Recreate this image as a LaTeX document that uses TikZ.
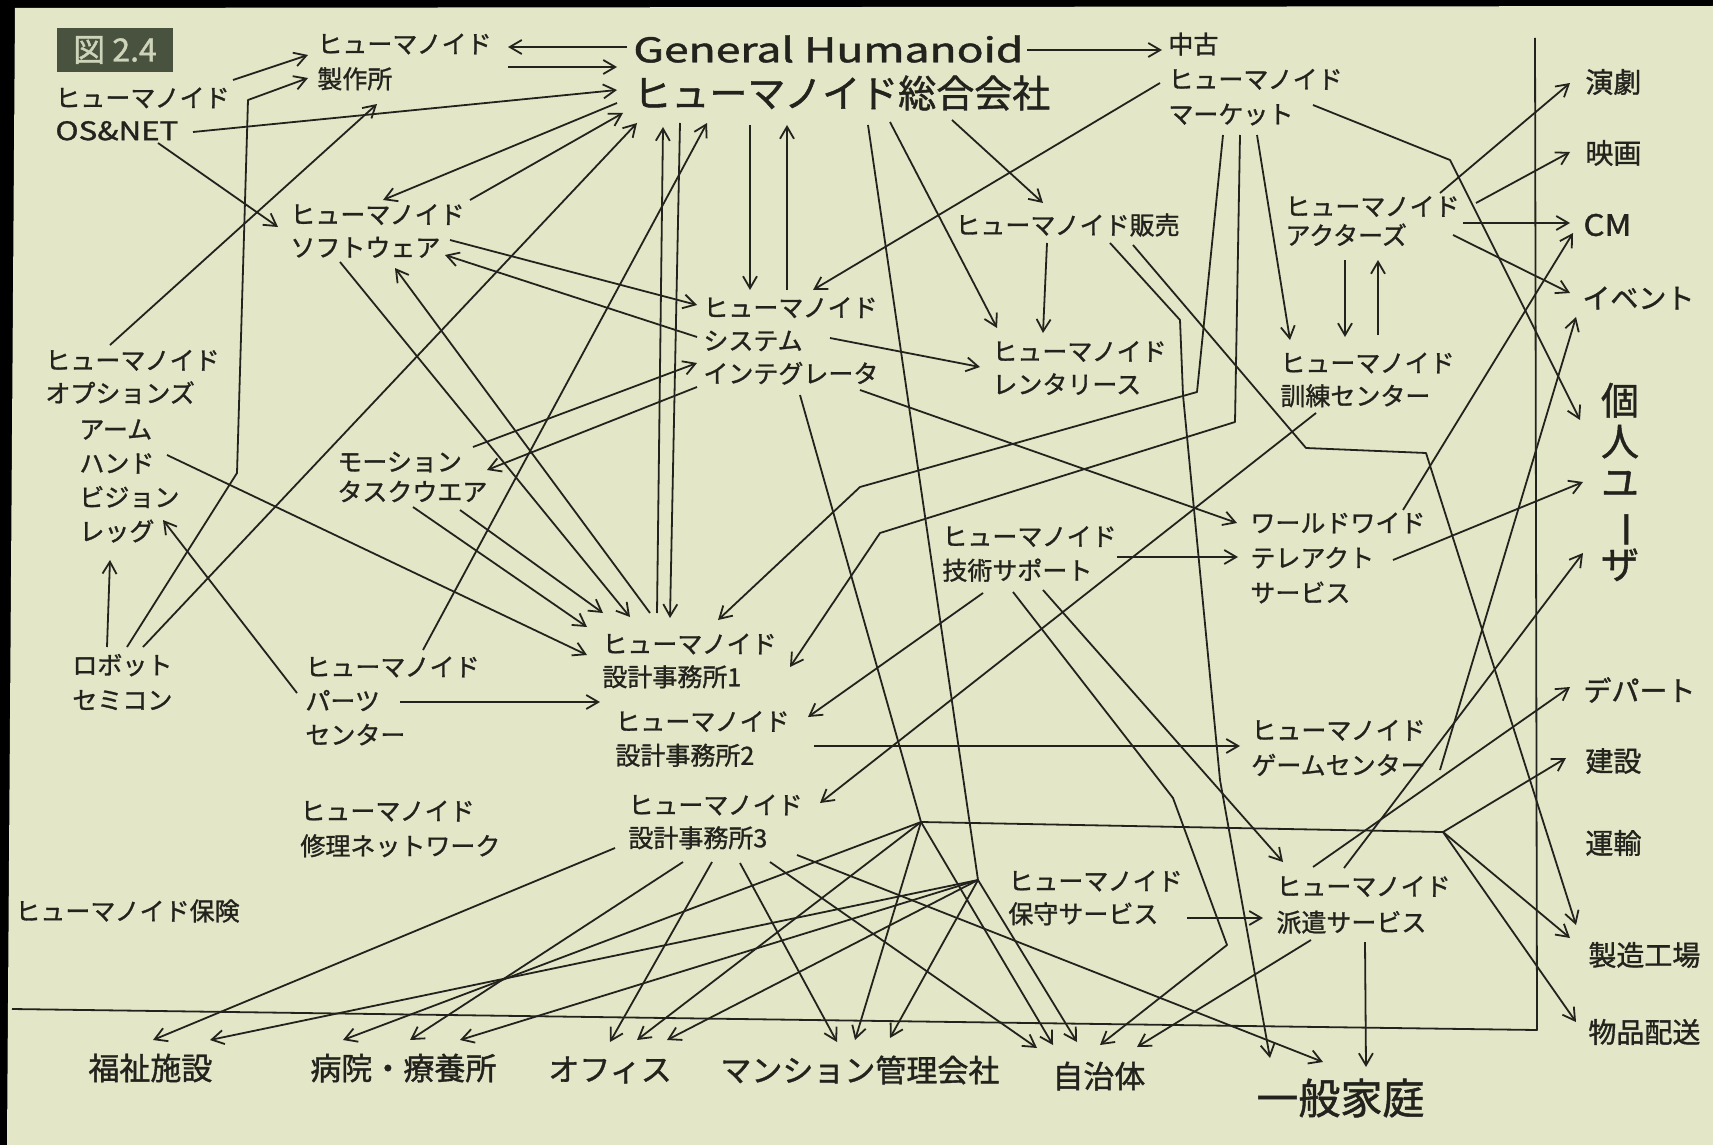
\documentclass[tikz,border=0pt]{standalone}
\usepackage{fontspec}
\usepackage{graphicx}
\newfontfamily\jp[FakeBold=1.2]{Noto Sans CJK JP}
\usetikzlibrary{arrows.meta,calc}
\definecolor{paper}{RGB}{227,230,199}
\definecolor{ink}{RGB}{35,35,30}
\definecolor{badgefill}{RGB}{72,82,62}
\definecolor{badgetext}{RGB}{205,212,185}
\begin{document}
\begin{tikzpicture}[x=0.5pt,y=-0.5pt,
  lbl/.style={font=\jp\fontsize{12.5}{16.5}\selectfont,align=left,anchor=west,inner sep=0pt,text=ink},
  side/.style={lbl,font=\jp\fontsize{14}{16}\selectfont},
  dest/.style={lbl,font=\jp\fontsize{15.5}{18}\selectfont},
  ln/.style={draw=ink,line width=0.9pt,line join=round},
  arr/.style={ln,-{Straight Barb[length=6pt,width=7pt]}}]
\fill[black] (0,0) rectangle (1713,1145);
\fill[paper] (15,8) -- (1713,6) -- (1713,1145) -- (7,1145) -- cycle;
\useasboundingbox (0,0) rectangle (1713,1145);

% nodes
\node[fill=badgefill,text=badgetext,inner sep=0pt,minimum width=58pt,minimum height=22pt,font=\jp\fontsize{16}{16}\selectfont] (badge) at (115,50) {図 2.4};
\node[lbl] (osnet) at (55,114) {ヒューマノイド\\\resizebox{61.5pt}{9.5pt}{OS\&NET}};
\node[lbl,font=\jp\fontsize{12.5}{17.5}\selectfont] (seisaku) at (317,62) {ヒューマノイド\\製作所};
\node[lbl] (GHen) at (633,49) {\resizebox{195pt}{13.5pt}{General Humanoid}};
\node[lbl,font=\jp\fontsize{19}{19}\selectfont] (GHjp) at (633,93) {ヒューマノイド総合会社};
\node[lbl,font=\jp\fontsize{12.5}{17.5}\selectfont] (chuko) at (1168,79) {中古\\ヒューマノイド\\マーケット};
\node[side] (engeki) at (1585,82) {演劇};
\node[side] (eiga) at (1585,153) {映画};
\node[lbl] (CM) at (1583,225) {\resizebox{24pt}{11pt}{CM}};
\node[side] (event) at (1582,298) {イベント};
\node[font=\jp\fontsize{19}{20.5}\selectfont,align=center,inner sep=0pt,text=ink] (kojin) at (1620,482) {個\\人\\ユ\\\rotatebox[origin=c]{-90}{ー}\\ザ};
\node[side] (depart) at (1583,690) {デパート};
\node[side] (kensetsu) at (1585,761) {建設};
\node[side] (unyu) at (1585,843) {運輸};
\node[side] (seizo) at (1588,955) {製造工場};
\node[side] (buppin) at (1588,1032) {物品配送};
\node[lbl] (software) at (290,231) {ヒューマノイド\\ソフトウェア};
\node[lbl] (hanbai) at (955,225) {ヒューマノイド販売};
\node[lbl,font=\jp\fontsize{12.5}{14.5}\selectfont] (actors) at (1285,221) {ヒューマノイド\\アクターズ};
\node[lbl] (system) at (703,341) {ヒューマノイド\\システム\\インテグレータ};
\node[lbl] (rental) at (992,368) {ヒューマノイド\\レンタリース};
\node[lbl] (kunren) at (1280,380) {ヒューマノイド\\訓練センター};
\node[lbl] (options) at (45,377) {ヒューマノイド\\オプションズ};
\node[lbl,font=\jp\fontsize{12.5}{17}\selectfont] (arm) at (79,481) {アーム\\ハンド\\ビジョン\\レッグ};
\node[lbl,font=\jp\fontsize{12.5}{15}\selectfont] (motion) at (337,477) {モーション\\タスクウエア};
\node[lbl,font=\jp\fontsize{12.5}{17}\selectfont] (gijutsu) at (942,554) {ヒューマノイド\\技術サポート};
\node[lbl,font=\jp\fontsize{12.5}{17.5}\selectfont] (worldwide) at (1250,558) {ワールドワイド\\テレアクト\\サービス};
\node[lbl,font=\jp\fontsize{12.5}{17.5}\selectfont] (robot) at (72,682) {ロボット\\セミコン};
\node[lbl,font=\jp\fontsize{12.5}{17}\selectfont] (parts) at (305,701) {ヒューマノイド\\パーツ\\センター};
\node[lbl] (sekkei1) at (602,661) {ヒューマノイド\\設計事務所1};
\node[lbl,font=\jp\fontsize{12.5}{17}\selectfont] (sekkei2) at (615,739) {ヒューマノイド\\設計事務所2};
\node[lbl,font=\jp\fontsize{12.5}{17.5}\selectfont] (game) at (1251,748) {ヒューマノイド\\ゲームセンター};
\node[lbl] (sekkei3) at (628,822) {ヒューマノイド\\設計事務所3};
\node[lbl,font=\jp\fontsize{12.5}{17.5}\selectfont] (shuri) at (300,829) {ヒューマノイド\\修理ネットワーク};
\node[lbl] (hoken) at (15,911) {ヒューマノイド保険};
\node[lbl] (hoshu) at (1008,898) {ヒューマノイド\\保守サービス};
\node[lbl,font=\jp\fontsize{12.5}{18}\selectfont] (haken) at (1276,905) {ヒューマノイド\\派遣サービス};
\node[dest] (fukushi) at (88,1068) {福祉施設};
\node[dest] (byoin) at (310,1068) {病院・療養所};
\node[dest] (office) at (548,1070) {オフィス};
\node[dest] (mansion) at (720,1070) {マンション管理会社};
\node[dest] (jichitai) at (1052,1076) {自治体};
\node[lbl,font=\jp\fontsize{21}{21}\selectfont] (ippan) at (1256,1098) {一般家庭};

% hubs and bends
\coordinate (H1) at (921,822);
\coordinate (H2) at (978,880);
\coordinate (H3) at (1443,832);
\coordinate (v1) at (237,473);
\coordinate (v2) at (248,100);
\coordinate (c1) at (1450,160);
\coordinate (ca1) at (1197,392);
\coordinate (ca2) at (860,487);
\coordinate (cb1) at (1235,422);
\coordinate (cb2) at (880,533);
\coordinate (hb1) at (1180,320);
\coordinate (hb2) at (1183,395);
\coordinate (hb3) at (1220,780);
\coordinate (hs1) at (1306,448);
\coordinate (hs2) at (1426,453);
\coordinate (g1) at (1173,798);
\coordinate (g2) at (1227,945);
\coordinate (fA) at (12,1009);
\coordinate (fB) at (1537,1030);
\coordinate (fC) at (1535,38);

% frame
\draw[ln] (fA) -- (fB) -- (fC);

% top area
\draw[arr] ($(osnet.west)+(178,-34)$) -- ($(seisaku.west)+(-9,-7)$);
\draw[arr] ($(GHen.west)+(-6,-2)$) -- ($(seisaku.west)+(191,-15)$);
\draw[arr] ($(seisaku.west)+(191,5)$) -- ($(GHjp.west)+(-16,-26)$);
\draw[arr] ($(GHen.west)+(394,1)$) -- ($(chuko.west)+(-6,-29)$);
\draw[arr] ($(robot.west)+(55,-35)$) -- (v1) -- (v2) -- ($(seisaku.west)+(-9,16)$);
\draw[arr] ($(osnet.west)+(138,18)$) -- ($(GHjp.west)+(-16,-3)$);
\draw[arr] ($(osnet.west)+(103,29)$) -- ($(software.west)+(-12,-4)$);
\draw[arr] ($(options.west)+(65,-32)$) -- ($(seisaku.west)+(60,42)$);
\draw[arr] ($(GHjp.west)+(-16,10)$) -- ($(software.west)+(93,-31)$);
\draw[arr] ($(software.west)+(180,-31)$) -- ($(GHjp.west)+(-10,20)$);
\draw[arr] ($(robot.west)+(71,-35)$) -- ($(GHjp.west)+(4,30)$);
\draw[arr] ($(parts.west)+(118,-51)$) -- ($(GHjp.west)+(74,30)$);
\draw[arr] ($(sekkei1.west)+(55,-48)$) -- ($(GHjp.west)+(30,34)$);
\draw[arr] ($(GHjp.west)+(47,30)$) -- ($(sekkei1.west)+(68,-43)$);
\draw[arr] ($(GHjp.west)+(117,32)$) -- ($(system.west)+(47,-51)$);
\draw[arr] ($(system.west)+(84,-51)$) -- ($(GHjp.west)+(154,32)$);
\draw[arr] ($(GHjp.west)+(235,32)$) -- (H2) -- ($(jichitai.west)+(25,-34)$);
\draw[arr] ($(GHjp.west)+(257,29)$) -- ($(rental.west)+(5,-40)$);
\draw[arr] ($(GHjp.west)+(319,27)$) -- ($(hanbai.west)+(88,-22)$);
\draw[arr] ($(chuko.west)+(-8,4)$) -- ($(system.west)+(110,-51)$);
\draw[arr] ($(chuko.west)+(145,26)$) -- (c1) -- ($(kojin.center)+(-40,-62)$);
\draw[arr] ($(chuko.west)+(55,56)$) -- (ca1) -- (ca2) -- ($(sekkei1.west)+(116,-41)$);
\draw[arr] ($(chuko.west)+(72,56)$) -- (cb1) -- (cb2) -- ($(sekkei1.west)+(188,6)$);
\draw[arr] ($(chuko.west)+(89,56)$) -- ($(kunren.west)+(10,-40)$);

% actors
\draw[arr] ($(actors.west)+(155,-28)$) -- ($(engeki.west)+(-15,1)$);
\draw[arr] ($(actors.west)+(191,-18)$) -- ($(eiga.west)+(-15,-1)$);
\draw[arr] ($(actors.west)+(178,2)$) -- ($(CM.west)+(-13,-2)$);
\draw[arr] ($(actors.west)+(168,14)$) -- ($(event.west)+(-12,-5)$);
\draw[arr] ($(actors.west)+(60,39)$) -- ($(kunren.west)+(65,-43)$);
\draw[arr] ($(kunren.west)+(98,-45)$) -- ($(actors.west)+(93,39)$);

% right side
\draw[arr] ($(worldwide.west)+(153,-48)$) -- ($(CM.west)+(-10,8)$);
\draw[arr] ($(worldwide.west)+(143,2)$) -- ($(kojin.center)+(-37,0)$);
\draw[arr] ($(game.west)+(189,22)$) -- ($(event.west)+(-6,19)$);
\draw[arr] ($(haken.west)+(37,-38)$) -- ($(depart.west)+(-13,-3)$);
\draw[arr] ($(haken.west)+(68,-37)$) -- ($(kojin.center)+(-37,71)$);

% hanbai
\draw[arr] ($(hanbai.west)+(92,18)$) -- ($(rental.west)+(51,-35)$);
\draw[arr] ($(hanbai.west)+(155,18)$) -- (hb1) -- (hb2) -- (hb3) -- ($(ippan.west)+(14,-40)$);
\draw[arr] ($(hanbai.west)+(178,20)$) -- (hs1) -- (hs2) -- ($(seizo.west)+(-12,-30)$);

% system
\draw[arr] ($(system.west)+(-6,-4)$) -- ($(software.west)+(155,24)$);
\draw[arr] ($(software.west)+(160,9)$) -- ($(system.west)+(-6,-36)$);
\draw[arr] ($(system.west)+(127,-3)$) -- ($(rental.west)+(-12,-1)$);
\draw[arr] ($(system.west)+(-6,46)$) -- ($(motion.west)+(150,-7)$);
\draw[arr] ($(motion.west)+(136,-30)$) -- ($(system.west)+(-6,22)$);
\draw[arr] ($(system.west)+(157,49)$) -- ($(worldwide.west)+(-13,-35)$);
\draw[ln] ($(system.west)+(97,54)$) -- (H1);

% into sekkei1
\draw[arr] ($(software.west)+(50,31)$) -- ($(sekkei1.west)+(28,-44)$);
\draw[arr] ($(sekkei1.west)+(48,-48)$) -- ($(software.west)+(105,37)$);
\draw[arr] ($(motion.west)+(123,33)$) -- ($(sekkei1.west)+(1,-48)$);
\draw[arr] ($(motion.west)+(76,30)$) -- ($(sekkei1.west)+(-15,-34)$);
\draw[arr] ($(arm.west)+(88,-26)$) -- ($(sekkei1.west)+(-15,-6)$);
\draw[arr] ($(parts.west)+(95,1)$) -- ($(sekkei1.west)+(-2,41)$);
\draw[arr] ($(parts.west)+(-8,-8)$) -- ($(arm.west)+(84,39)$);
\draw[arr] ($(robot.west)+(35,-35)$) -- ($(arm.west)+(31,79)$);

% gijutsu
\draw[arr] ($(gijutsu.west)+(175,3)$) -- ($(worldwide.west)+(-12,-1)$);
\draw[arr] ($(gijutsu.west)+(41,39)$) -- ($(sekkei2.west)+(193,-22)$);
\draw[arr] ($(gijutsu.west)+(71,38)$) -- (g1) -- (g2) -- ($(jichitai.west)+(48,-31)$);
\draw[arr] ($(gijutsu.west)+(101,36)$) -- ($(haken.west)+(7,-43)$);
\draw[arr] ($(sekkei2.west)+(199,7)$) -- ($(game.west)+(-11,-2)$);
\draw[arr] ($(kunren.west)+(36,33)$) -- ($(sekkei3.west)+(192,-19)$);
\draw[arr] ($(hoshu.west)+(179,20)$) -- ($(haken.west)+(-13,13)$);
\draw[arr] ($(haken.west)+(89,37)$) -- ($(ippan.west)+(110,-31)$);
\draw[arr] ($(haken.west)+(35,35)$) -- ($(jichitai.west)+(85,-29)$);

% sekkei3
\draw[arr] ($(sekkei3.west)+(-13,26)$) -- ($(fukushi.west)+(65,-28)$);
\draw[arr] ($(sekkei3.west)+(55,40)$) -- ($(byoin.west)+(100,-28)$);
\draw[arr] ($(sekkei3.west)+(84,40)$) -- ($(office.west)+(62,-28)$);
\draw[arr] ($(sekkei3.west)+(112,41)$) -- ($(mansion.west)+(117,-28)$);
\draw[arr] ($(sekkei3.west)+(142,40)$) -- ($(jichitai.west)+(-15,-28)$);
\draw[arr] ($(sekkei3.west)+(169,33)$) -- ($(ippan.west)+(67,-36)$);

% hubs
\draw[arr] (H1) -- ($(byoin.west)+(33,-28)$);
\draw[arr] (H1) -- ($(office.west)+(89,-30)$);
\draw[arr] (H1) -- ($(mansion.west)+(135,-30)$);
\draw[arr] (H1) -- ($(jichitai.west)+(1,-31)$);
\draw[ln] (H1) -- (H3);
\draw[arr] (H3) -- ($(kensetsu.west)+(-19,-3)$);
\draw[arr] (H3) -- ($(seizo.west)+(-18,-17)$);
\draw[arr] (H3) -- ($(buppin.west)+(-12,-10)$);
\draw[arr] (H2) -- ($(fukushi.west)+(122,-28)$);
\draw[arr] (H2) -- ($(byoin.west)+(150,-28)$);
\draw[arr] (H2) -- ($(office.west)+(119,-30)$);
\draw[arr] (H2) -- ($(mansion.west)+(170,-32)$);
\end{tikzpicture}
\end{document}
